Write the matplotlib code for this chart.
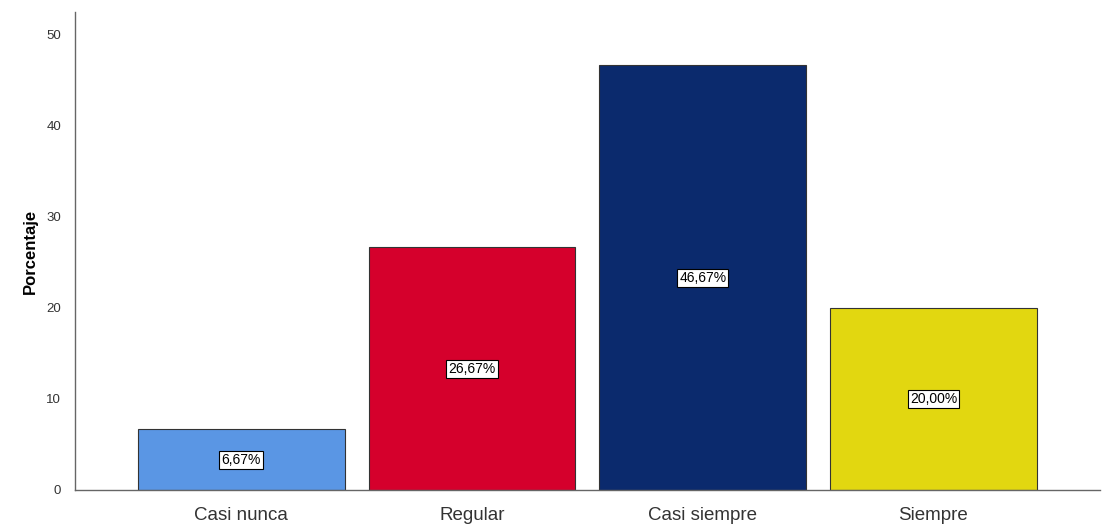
import matplotlib.pyplot as plt

categories = ["Casi nunca", "Regular", "Casi siempre", "Siempre"]
percentages = [6.67, 26.67, 46.67, 20.00]
bar_colors = ["#5a96e4", "#d5002c", "#0b2a6d", "#e2d710"]
y_ticks = [0, 10, 20, 30, 40, 50]

plt.rcParams["font.family"] = ["Liberation Sans", "DejaVu Sans"]

fig = plt.figure(figsize=(11.04, 5.25), dpi=100)
ax = fig.add_axes([0.068, 0.0667, 0.928, 0.91])

x = list(range(len(categories)))
bars = ax.bar(x, percentages, width=0.896, color=bar_colors,
              edgecolor="#333333", linewidth=0.8)

for xi, v in zip(x, percentages):
    ax.text(xi, v / 2, f"{v:.2f}%".replace(".", ","), ha="center", va="center",
            fontsize=10, color="black",
            bbox=dict(boxstyle="square,pad=0.15", fc="white", ec="black", lw=0.8))

ax.set_xlim(-0.72, 3.72)
ax.set_ylim(0, 52.5)
ax.set_xticks(x)
ax.set_xticklabels(categories, fontsize=13.5, color="#333333")
ax.set_yticks(y_ticks)
ax.set_yticklabels([str(t) for t in y_ticks], fontsize=9.5, color="#333333")
ax.tick_params(axis="x", length=0, pad=12)
ax.tick_params(axis="y", length=0, pad=10)
ax.set_ylabel("Porcentaje", fontsize=12, fontweight="bold", labelpad=6)

for side in ["top", "right"]:
    ax.spines[side].set_visible(False)
for side in ["left", "bottom"]:
    ax.spines[side].set_color("#666666")
    ax.spines[side].set_linewidth(1.0)

fig.savefig("out.png", dpi=100)
